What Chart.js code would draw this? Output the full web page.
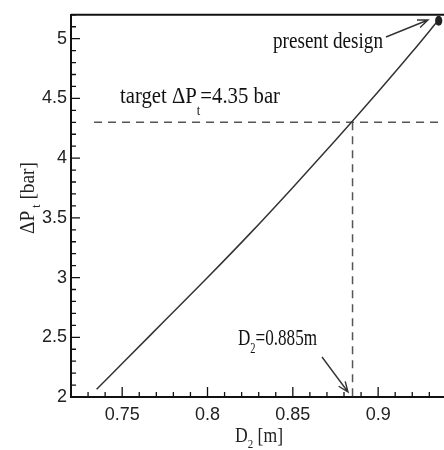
<!DOCTYPE html>
<html>
<head>
<meta charset="utf-8">
<script src="https://cdn.jsdelivr.net/npm/chart.js@4.4.1/dist/chart.umd.min.js"></script>
<style>
  html, body { margin: 0; padding: 0; background: #fff; overflow: hidden; }
  #wrap { width: 444px; height: 450px; }
</style>
</head>
<body>
<div id="wrap"><canvas id="chartDp"></canvas></div>
<script>
  // data
  const diameters = [0.735, 0.75, 0.775, 0.8, 0.825, 0.85, 0.875, 0.885, 0.9, 0.92, 0.935];
  const pressureDrop = [2.065, 2.28, 2.64, 3.0, 3.37, 3.755, 4.15, 4.31, 4.555, 4.89, 5.15];
  const targetDp = 4.3;
  const targetD = 0.885;
  const targetLineStart = 0.7335;
  const presentDesign = [0.9355, 5.15];
  const xTicks = [0.75, 0.8, 0.85, 0.9];
  const yTicks = [2, 2.5, 3, 3.5, 4, 4.5, 5];

  const serif = "'Liberation Serif', 'Times New Roman', serif";
  const sans = "'Liberation Sans', Arial, sans-serif";

  const xMin = 0.72, xMax = 0.9386, yMin = 2, yMax = 5.2;

  // condensed serif text with subscripts; parts = [[text, size, dy], ...]
  const drawRich = (ctx, parts, x, y, width, align) => {
    let w = 0;
    parts.forEach(p => {
      ctx.font = p[1] + "px " + serif;
      w += ctx.measureText(p[0]).width;
    });
    const sx = width / w;
    ctx.save();
    ctx.translate(align === "center" ? x - width / 2 : x, y);
    ctx.scale(sx, 1);
    ctx.textBaseline = "alphabetic";
    ctx.textAlign = "left";
    let cx = 0;
    parts.forEach(p => {
      ctx.font = p[1] + "px " + serif;
      ctx.fillText(p[0], cx, p[2]);
      cx += ctx.measureText(p[0]).width;
    });
    ctx.restore();
  };

  const arrow = (ctx, x1, y1, x2, y2) => {
    const a = Math.atan2(y2 - y1, x2 - x1);
    const h = 11;
    ctx.beginPath();
    ctx.moveTo(x1, y1);
    ctx.lineTo(x2, y2);
    ctx.moveTo(x2 - h * Math.cos(a - 0.38), y2 - h * Math.sin(a - 0.38));
    ctx.lineTo(x2, y2);
    ctx.lineTo(x2 - h * Math.cos(a + 0.38), y2 - h * Math.sin(a + 0.38));
    ctx.stroke();
  };

  const decorations = {
    id: "decorations",
    afterDraw(chart) {
      const ctx = chart.ctx;
      const xs = chart.scales.x, ys = chart.scales.y;
      const area = chart.chartArea;
      ctx.save();
      ctx.strokeStyle = "#111";
      ctx.fillStyle = "#111";

      // top frame line
      ctx.lineWidth = 2;
      ctx.beginPath();
      ctx.moveTo(area.left, area.top);
      ctx.lineTo(area.right, area.top);
      ctx.stroke();

      // inward ticks
      ctx.lineWidth = 1.3;
      ctx.beginPath();
      for (let i = 0; i <= 22; i++) {
        const v = Math.round((xMin + i * 0.01) * 1000) / 1000;
        if (v > xMax) break;
        const px = xs.getPixelForValue(v);
        const major = xTicks.some(t => Math.abs(t - v) < 1e-6);
        ctx.moveTo(px, area.bottom);
        ctx.lineTo(px, area.bottom - (major ? 10 : 5));
      }
      for (let i = 0; i <= 32; i++) {
        const v = Math.round((yMin + i * 0.1) * 100) / 100;
        const py = ys.getPixelForValue(v);
        const major = yTicks.some(t => Math.abs(t - v) < 1e-6);
        ctx.moveTo(area.left, py);
        ctx.lineTo(area.left + (major ? 9 : 5), py);
      }
      ctx.stroke();

      // axis titles
      ctx.fillStyle = "#222";
      drawRich(ctx, [["D", 21, 0], ["2", 13, 6], [" [m]", 21, 0]], 259, 442, 48, "center");
      ctx.save();
      ctx.translate(34, 198);
      ctx.rotate(-Math.PI / 2);
      drawRich(ctx, [["\u0394P", 21, 0], [" t", 13, 6], [" [bar]", 21, 0]], 0, 0, 72, "center");
      ctx.restore();

      // annotations
      ctx.fillStyle = "#111";
      drawRich(ctx, [["present design", 23, 0]], 273, 48, 110, "left");
      drawRich(ctx, [["target \u0394P", 23, 0], ["t", 14, 12], ["=4.35 bar", 23, 0]], 120, 103, 160, "left");
      drawRich(ctx, [["D", 23, 0], ["2", 14, 8], ["=0.885m", 23, 0]], 238, 345, 79, "left");

      ctx.strokeStyle = "#333";
      ctx.lineWidth = 1.4;
      arrow(ctx, 386, 37, 428, 20);
      arrow(ctx, 322, 357, 348, 392);

      // present design marker
      const mx = xs.getPixelForValue(presentDesign[0]);
      const my = ys.getPixelForValue(presentDesign[1]);
      ctx.fillStyle = "#222";
      ctx.beginPath();
      ctx.ellipse(mx, my, 3.6, 5, 0, 0, Math.PI * 2);
      ctx.fill();
      ctx.restore();
    }
  };

  const curvePoints = diameters.map((d, i) => ({ x: d, y: pressureDrop[i] }));

  new Chart(document.getElementById("chartDp"), {
    type: "scatter",
    data: {
      datasets: [
        {
          label: "dP",
          data: curvePoints,
          showLine: true,
          borderColor: "#333",
          borderWidth: 1.5,
          pointRadius: 0,
          cubicInterpolationMode: "monotone"
        },
        {
          label: "target dP",
          data: [{ x: targetLineStart, y: targetDp }, { x: xMax, y: targetDp }],
          showLine: true,
          borderColor: "#555",
          borderWidth: 1.5,
          borderDash: [8, 6],
          pointRadius: 0
        },
        {
          label: "target D",
          data: [{ x: targetD, y: targetDp }, { x: targetD, y: yMin }],
          showLine: true,
          borderColor: "#555",
          borderWidth: 1.5,
          borderDash: [8, 6],
          pointRadius: 0
        }
      ]
    },
    options: {
      responsive: true,
      maintainAspectRatio: false,
      animation: false,
      layout: { padding: { top: 11, right: 0, left: 0, bottom: 0 } },
      plugins: { legend: { display: false }, tooltip: { enabled: false } },
      scales: {
        x: {
          type: "linear",
          min: xMin,
          max: xMax,
          afterBuildTicks: s => { s.ticks = xTicks.map(v => ({ value: v })); },
          afterFit: s => { s.height = 53; },
          grid: { display: false, drawTicks: false },
          border: { display: true, color: "#111", width: 2 },
          ticks: {
            color: "#222",
            padding: 7,
            maxRotation: 0,
            font: { family: sans, size: 18 },
            callback: v => String(v)
          }
        },
        y: {
          type: "linear",
          min: yMin,
          max: yMax,
          afterBuildTicks: s => { s.ticks = yTicks.map(v => ({ value: v })); },
          afterFit: s => { s.width = 71; },
          grid: { display: false, drawTicks: false },
          border: { display: true, color: "#111", width: 2 },
          ticks: {
            color: "#222",
            padding: 4,
            font: { family: sans, size: 18 },
            callback: v => String(v)
          }
        }
      }
    },
    plugins: [decorations]
  });
</script>
</body>
</html>
